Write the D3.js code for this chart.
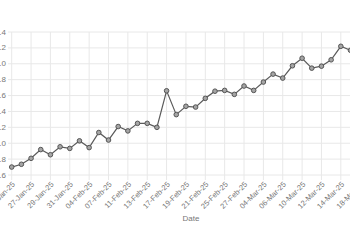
<!DOCTYPE html>
<html>
<head>
<meta charset="utf-8">
<script src="https://cdn.jsdelivr.net/npm/d3@7"></script>
<style>
  body { margin: 0; background: #fff; }
  svg { display: block; font-family: "Liberation Sans", Arial, sans-serif; }
</style>
</head>
<body>
<div id="chart"></div>
<script>
// trading days shown on the x axis (every other one gets a label)
const dates = [
  '23-Jan-25', '24-Jan-25', '27-Jan-25', '28-Jan-25', '29-Jan-25', '30-Jan-25',
  '31-Jan-25', '03-Feb-25', '04-Feb-25', '05-Feb-25', '07-Feb-25', '10-Feb-25',
  '11-Feb-25', '12-Feb-25', '13-Feb-25', '14-Feb-25', '17-Feb-25', '18-Feb-25',
  '19-Feb-25', '20-Feb-25', '21-Feb-25', '24-Feb-25', '25-Feb-25', '26-Feb-25',
  '27-Feb-25', '03-Mar-25', '04-Mar-25', '05-Mar-25', '06-Mar-25', '07-Mar-25',
  '10-Mar-25', '11-Mar-25', '12-Mar-25', '13-Mar-25', '14-Mar-25', '17-Mar-25',
  '18-Mar-25'
]
// values
const values = [
  0.70, 0.735, 0.81, 0.92, 0.855, 0.955, 0.935, 1.03, 0.945, 1.135,
  1.04, 1.21, 1.155, 1.25, 1.25, 1.20, 1.66, 1.36, 1.465, 1.455,
  1.565, 1.655, 1.665, 1.615, 1.72, 1.665, 1.77, 1.87, 1.82, 1.975,
  2.07, 1.945, 1.97, 2.05, 2.22, 2.17
]
const yTicks = [0.6, 0.8, 1.0, 1.2, 1.4, 1.6, 1.8, 2.0, 2.2, 2.4]

const width = 350,
      height = 250

const svg = d3.select('#chart')
    .append('svg')
    .attr('width', width)
    .attr('height', height)

// the original chart is cropped: plot starts at x ~12 and runs off the right edge
const x = d3.scalePoint()
    .domain(dates)
    .range([11.7, 11.7 + 9.68 * (dates.length - 1)])

const y = d3.scaleLinear()
    .domain([0.6, 2.4])
    .range([175, 32])

const right = x(dates[dates.length - 1])
const labelDates = dates.filter((d, i) => i % 2 == 0)

// grid
svg.append('g')
    .selectAll('line')
    .data(yTicks)
    .enter().append('line')
    .attr('x1', 8)
    .attr('x2', right)
    .attr('y1', d => y(d))
    .attr('y2', d => y(d))
    .attr('stroke', '#e8e8e8')
    .attr('stroke-width', 1)

svg.append('g')
    .selectAll('line')
    .data(labelDates)
    .enter().append('line')
    .attr('x1', d => x(d))
    .attr('x2', d => x(d))
    .attr('y1', y(2.4))
    .attr('y2', y(0.6) + 5)
    .attr('stroke', '#e8e8e8')
    .attr('stroke-width', 1)

// y tick labels (partly cut off at the left edge, like the reference)
svg.append('g')
    .selectAll('text')
    .data(yTicks)
    .enter().append('text')
    .attr('x', 6)
    .attr('y', d => y(d))
    .attr('text-anchor', 'end')
    .attr('dominant-baseline', 'central')
    .attr('font-size', 8)
    .attr('fill', '#777')
    .text(d => d3.format('.1f')(d))

// x tick labels, rotated 45 degrees
svg.append('g')
    .selectAll('text')
    .data(labelDates)
    .enter().append('text')
    .attr('transform', d => `translate(${x(d) + 2}, 183) rotate(-45)`)
    .attr('text-anchor', 'end')
    .attr('dominant-baseline', 'central')
    .attr('font-size', 7.5)
    .attr('fill', '#777')
    .text(d => d)

svg.append('text')
    .attr('x', 191)
    .attr('y', 218)
    .attr('text-anchor', 'middle')
    .attr('dominant-baseline', 'central')
    .attr('font-size', 8)
    .attr('fill', '#777')
    .text('Date')

// line + points
const line = d3.line()
    .x((d, i) => x(dates[i]))
    .y(d => y(d))

svg.append('path')
    .datum(values)
    .attr('d', line)
    .attr('fill', 'none')
    .attr('stroke', '#5a5a5a')
    .attr('stroke-width', 1.2)

svg.append('g')
    .selectAll('circle')
    .data(values)
    .enter().append('circle')
    .attr('cx', (d, i) => x(dates[i]))
    .attr('cy', d => y(d))
    .attr('r', 2.3)
    .attr('fill', '#a5a5a5')
    .attr('stroke', '#555')
    .attr('stroke-width', 1)
</script>
</body>
</html>
